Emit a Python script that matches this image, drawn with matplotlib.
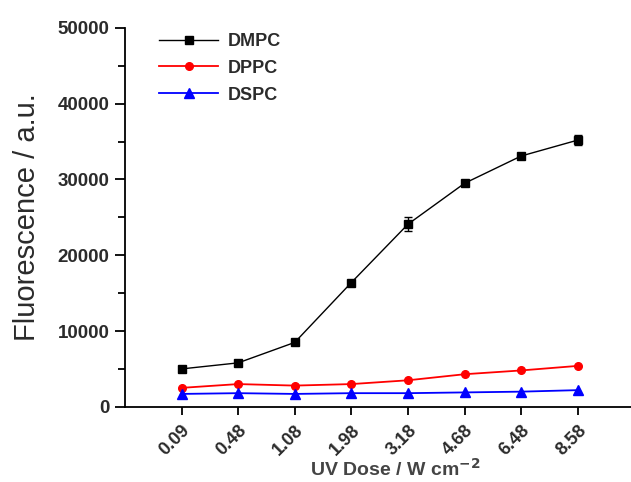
import numpy as np
import matplotlib
matplotlib.use('Agg')
import matplotlib.pyplot as plt
from matplotlib.ticker import MultipleLocator

plt.rcParams['font.family'] = ['Liberation Sans', 'DejaVu Sans']

#UV dose categories (W cm-2)
doses = ['0.09', '0.48', '1.08', '1.98', '3.18', '4.68', '6.48', '8.58']

#fluorescence
dmpc = [5000, 5800, 8500, 16400, 24100, 29500, 33100, 35200]
dmpc_err = [0, 0, 0, 0, 900, 0, 0, 700]
dppc = [2500, 3000, 2800, 3000, 3500, 4300, 4800, 5400]
dspc = [1700, 1800, 1700, 1800, 1800, 1900, 2000, 2200]

x = np.arange(len(doses))
txt = '#2b2b2b'

fig = plt.figure(figsize=(6.31, 4.82), dpi=100)
ax = fig.add_axes([0.198, 0.156, 0.802, 0.786])

#error bars drawn on their own so the legend keys stay plain
ax.errorbar(x, dmpc, yerr=dmpc_err, fmt='none', ecolor='black', elinewidth=1.0, capsize=3)
h1, = ax.plot(x, dmpc, color='black', lw=1.0, marker='s', ms=6, label='DMPC')
h2, = ax.plot(x, dppc, color='red', lw=1.3, marker='o', ms=5.5, label='DPPC')
h3, = ax.plot(x, dspc, color='blue', lw=1.3, marker='^', ms=7, label='DSPC')

ax.set_xlim(-1.0, 7.94)
ax.set_ylim(0, 50000)
ax.set_xticks(x)
ax.set_xticklabels(doses, rotation=45, ha='right', rotation_mode='anchor',
                   fontsize=13, fontweight='bold', color=txt)
ax.yaxis.set_major_locator(MultipleLocator(10000))
ax.yaxis.set_minor_locator(MultipleLocator(5000))
for lab in ax.get_yticklabels():
    lab.set_fontsize(13.5)
    lab.set_fontweight('bold')
    lab.set_color(txt)

ax.spines['top'].set_visible(False)
ax.spines['right'].set_visible(False)
for s in ['left', 'bottom']:
    ax.spines[s].set_linewidth(1.3)
ax.tick_params(axis='y', which='major', direction='out', length=7, width=1.3, pad=4)
ax.tick_params(axis='y', which='minor', direction='out', length=5, width=1.3)
ax.tick_params(axis='x', which='major', direction='out', length=6, width=1.3, pad=5)

ax.set_ylabel('Fluorescence / a.u.', fontsize=21, color=txt, labelpad=12)
ax.set_xlabel('UV Dose / W cm$^{\\mathbf{-2}}$', fontsize=14, fontweight='bold',
              color='#444444')
ax.xaxis.set_label_coords(0.534, -0.135)

leg = ax.legend(handles=[h1, h2, h3], loc='upper left', bbox_to_anchor=(0.035, 1.03),
                frameon=False, handlelength=3.3, handletextpad=0.5, labelspacing=0.55,
                prop={'size': 13, 'weight': 'bold'})
for t in leg.get_texts():
    t.set_color(txt)

fig.savefig('out.png', dpi=100)
